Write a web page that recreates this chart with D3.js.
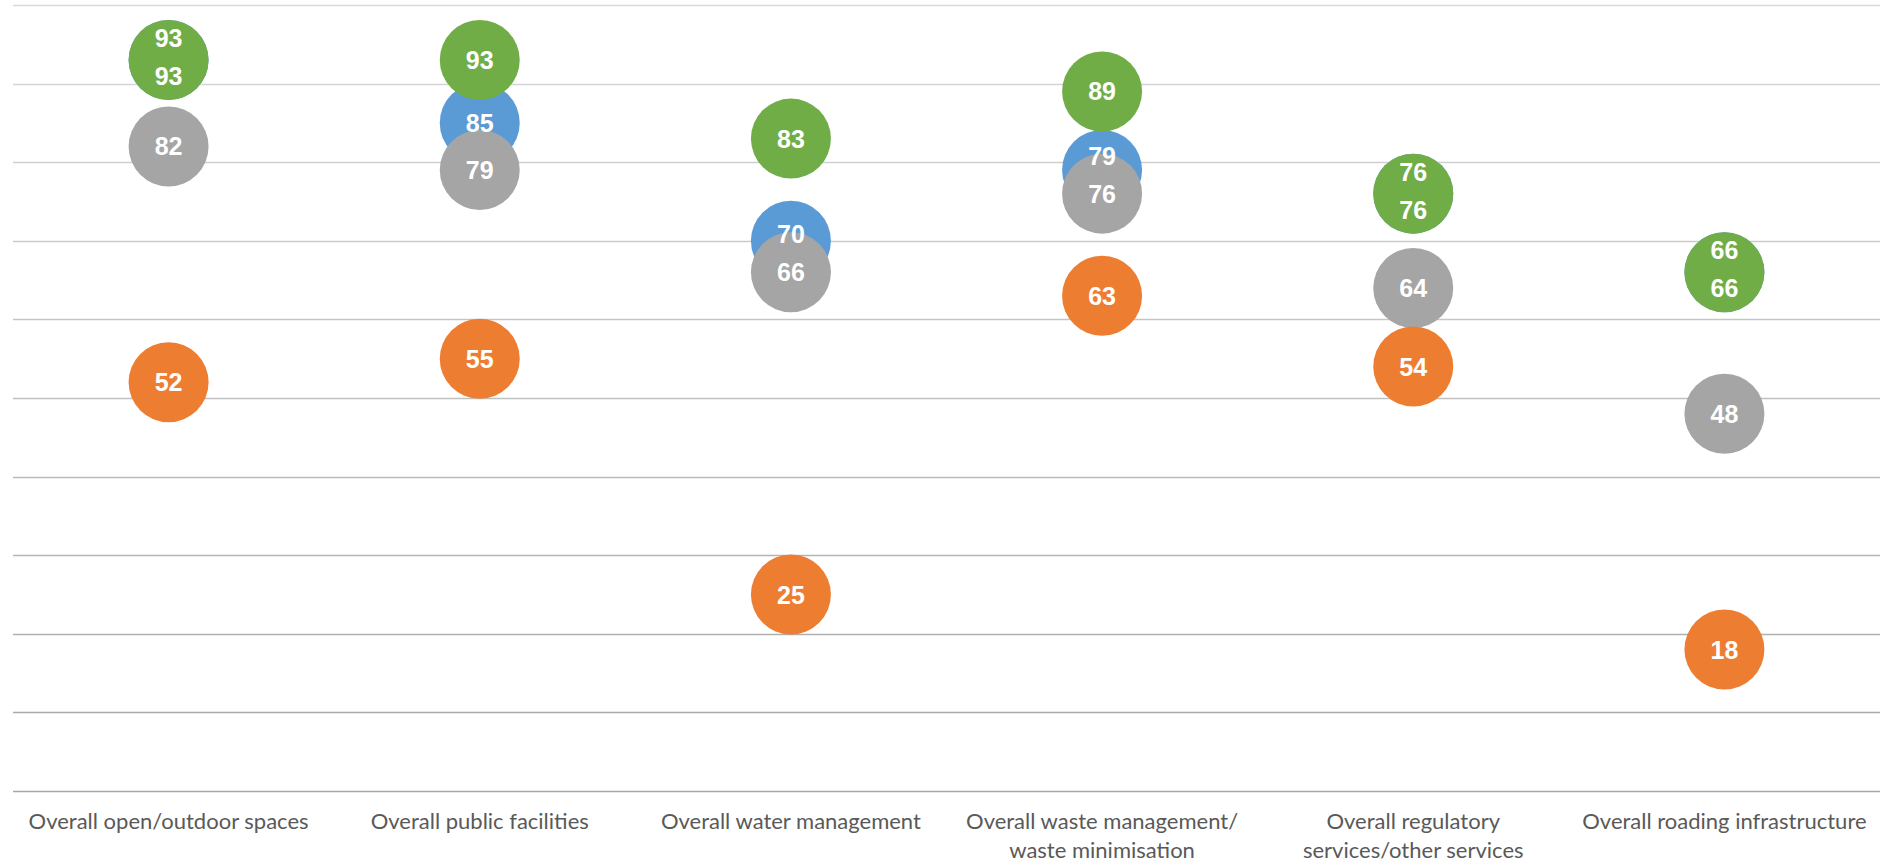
<!DOCTYPE html>
<html>
<head>
<meta charset="utf-8">
<script src="https://cdn.jsdelivr.net/npm/d3@7"></script>
<style>
  body { margin: 0; background: #fff; }
  svg { display: block; }
</style>
</head>
<body>
<svg id="chart"></svg>
<script>
// categories (each one split in lines like the original axis)
const categories = [
  ["Overall open/outdoor spaces"],
  ["Overall public facilities"],
  ["Overall water management"],
  ["Overall waste management/", "waste minimisation"],
  ["Overall regulatory", "services/other services"],
  ["Overall roading infrastructure"]
];

// series values, one per category
const blueVals   = [93, 85, 70, 79, 76, 66];
const greyVals   = [82, 79, 66, 76, 64, 48];
const greenVals  = [93, 93, 83, 89, 76, 66];
const orangeVals = [52, 55, 25, 63, 54, 18];

const gridTicks = [0, 10, 20, 30, 40, 50, 60, 70, 80, 90, 100];

var width = 1880, height = 863;
var margin = {top: 5, right: 0, bottom: 72, left: 13};

const svg = d3.select("#chart")
  .attr("width", width)
  .attr("height", height);

const x = d3.scaleBand()
  .domain(d3.range(categories.length))
  .range([margin.left, width - margin.right]);

const y = d3.scaleLinear()
  .domain([0, 100])
  .range([height - margin.bottom, margin.top]);

// gridlines, a bit darker toward the bottom like the original
const gridCol = d3.interpolateRgb("#d9d9d9", "#a6a6a6");
svg.append("g").selectAll("line")
  .data(gridTicks)
  .enter().append("line")
  .attr("x1", margin.left)
  .attr("x2", width - margin.right)
  .attr("y1", d => Math.round(y(d)) + 0.5)
  .attr("y2", d => Math.round(y(d)) + 0.5)
  .attr("stroke", d => gridCol(1 - d / 100))
  .attr("stroke-width", d => d == 0 ? 1.6 : 1.3);

// series in drawing order
const series = [
  {name: "blue",   color: "#5b9bd5", vals: blueVals},
  {name: "grey",   color: "#a5a5a5", vals: greyVals},
  {name: "green",  color: "#70ad47", vals: greenVals},
  {name: "orange", color: "#ed7d31", vals: orangeVals}
];

const r = 40;
const dots = svg.append("g");
series.forEach(s => {
  dots.selectAll("circle." + s.name)
    .data(s.vals)
    .enter().append("circle")
    .attr("class", s.name)
    .attr("cx", (d, i) => x(i) + x.bandwidth() / 2)
    .attr("cy", d => y(d))
    .attr("r", r)
    .attr("fill", s.color);
});

// labels on top; when green sits on blue both labels are pushed apart,
// and a blue label too close to the grey one is nudged up
function labelShift(name, i) {
  if (greenVals[i] == blueVals[i]) {
    if (name == "green") return -22;
    if (name == "blue") return 16;
    return 0;
  }
  if (name == "blue") {
    var gap = y(greyVals[i]) - y(blueVals[i]);
    return -Math.max(0, 38 - gap);
  }
  return 0;
}

const labels = svg.append("g")
  .attr("font-family", "Liberation Sans, Arial, sans-serif")
  .attr("font-weight", "bold")
  .attr("font-size", 25)
  .attr("fill", "#fff")
  .attr("text-anchor", "middle");

series.forEach(s => {
  labels.selectAll("text." + s.name)
    .data(s.vals)
    .enter().append("text")
    .attr("class", s.name)
    .attr("x", (d, i) => x(i) + x.bandwidth() / 2)
    .attr("y", (d, i) => y(d) + labelShift(s.name, i))
    .attr("dy", "0.36em")
    .text(d => d);
});

// category labels
const cat = svg.append("g")
  .attr("font-family", "Lato, 'Open Sans', sans-serif")
  .attr("font-size", 22)
  .attr("fill", "#595959")
  .attr("text-anchor", "middle");

categories.forEach((lines, i) => {
  var t = cat.append("text")
    .attr("x", x(i) + x.bandwidth() / 2)
    .attr("y", 829);
  lines.forEach((l, j) => {
    t.append("tspan")
      .attr("x", x(i) + x.bandwidth() / 2)
      .attr("dy", j == 0 ? 0 : 29)
      .text(l);
  });
});
</script>
</body>
</html>
